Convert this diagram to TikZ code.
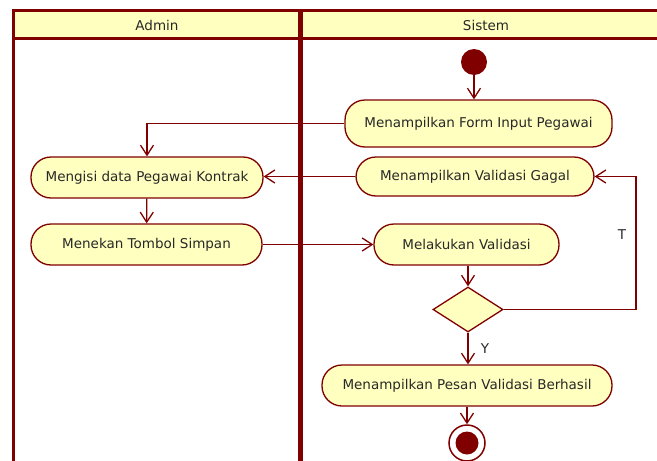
\documentclass[tikz,border=0pt]{standalone}
\usepackage{fontspec}
\setmainfont{DejaVu Sans}
\usetikzlibrary{arrows.meta,shapes.geometric,positioning}
\definecolor{umlred}{RGB}{128,0,0}
\definecolor{umlfill}{RGB}{255,255,192}
\definecolor{umltext}{RGB}{40,40,40}
\begin{document}
\begin{tikzpicture}[x=1pt, y=-1pt,
    font=\fontsize{13.5}{16}\selectfont, text=umltext,
    act/.style = {draw=umlred, fill=umlfill, line width=1.3pt, rectangle, rounded corners=20pt, minimum height=41pt, inner sep=0pt},
    dec/.style = {draw=umlred, fill=umlfill, line width=1.3pt, diamond, minimum width=70pt, minimum height=45pt, inner sep=0pt},
    startnode/.style = {circle, fill=umlred, minimum size=26pt, inner sep=0pt},
    endnode/.style = {circle, draw=umlred, fill=white, line width=1.5pt, minimum size=36pt, inner sep=0pt,
        path picture={\fill[umlred] (path picture bounding box.center) circle (11.5pt);}},
    arr/.style = {draw=umlred, line width=1.3pt, -{Straight Barb[length=10pt,width=13pt,line width=1.3pt]}},
    lane/.style = {draw=umlred, line width=3pt}]
                \useasboundingbox (0,0) rectangle (657,461);
                % swimlanes
                \fill[umlfill] (13,11) rectangle (657,38);
                \node (hadmin) at (157,25) {Admin};
                \node (hsistem) at (486,25) {Sistem};
                \draw[lane] (12,10.5) -- (657,10.5);
                \draw[lane] (12,38.5) -- (657,38.5);
                \draw[lane] (13.5,9) -- (13.5,461);
                \draw[lane, line width=5pt] (300,9) -- (300,461);

                \node[startnode] (start) at (474,62) {};
                \node[act, minimum width=267pt, minimum height=47pt] (form) at (478.5,123.5) {Menampilkan Form Input Pegawai};
                \node[act, minimum width=238pt, minimum height=39pt] (gagal) at (475,176.5) {Menampilkan Validasi Gagal};
                \node[act, minimum width=232pt] (isi) at (147,177.5) {Mengisi data Pegawai Kontrak};
                \node[act, minimum width=231pt] (tekan) at (146.5,244.5) {Menekan Tombol Simpan};
                \node[act, minimum width=185pt] (valid) at (466.5,244.5) {Melakukan Validasi};
                \node[dec] (cek) at (468,309.5) {};
                \node[act, minimum width=290pt] (sukses) at (467,385.5) {Menampilkan Pesan Validasi Berhasil};
                \node[endnode] (end) at (467,443) {};
                \coordinate (loop) at (636,309.5);

                \draw[arr] (start) -- (start |- form.north);
                \draw[arr] (form.west) -| (isi.north);
                \draw[arr] (gagal.west) -- (gagal.west -| isi.east);
                \draw[arr] (isi) -- (tekan);
                \draw[arr] (tekan.east) -- (tekan.east -| valid.west);
                \draw[arr] (valid.south -| cek.north) -- (cek.north);
                \draw[arr] (cek.east) -- (loop) |- (gagal.east) node[pos=0.28, left=6pt] {T};
                \draw[arr] (cek.south) -- (cek.south |- sukses.north) node[midway, right=9pt] {Y};
                \draw[arr] (sukses.south -| end.north) -- (end.north);

            \end{tikzpicture}
\end{document}
